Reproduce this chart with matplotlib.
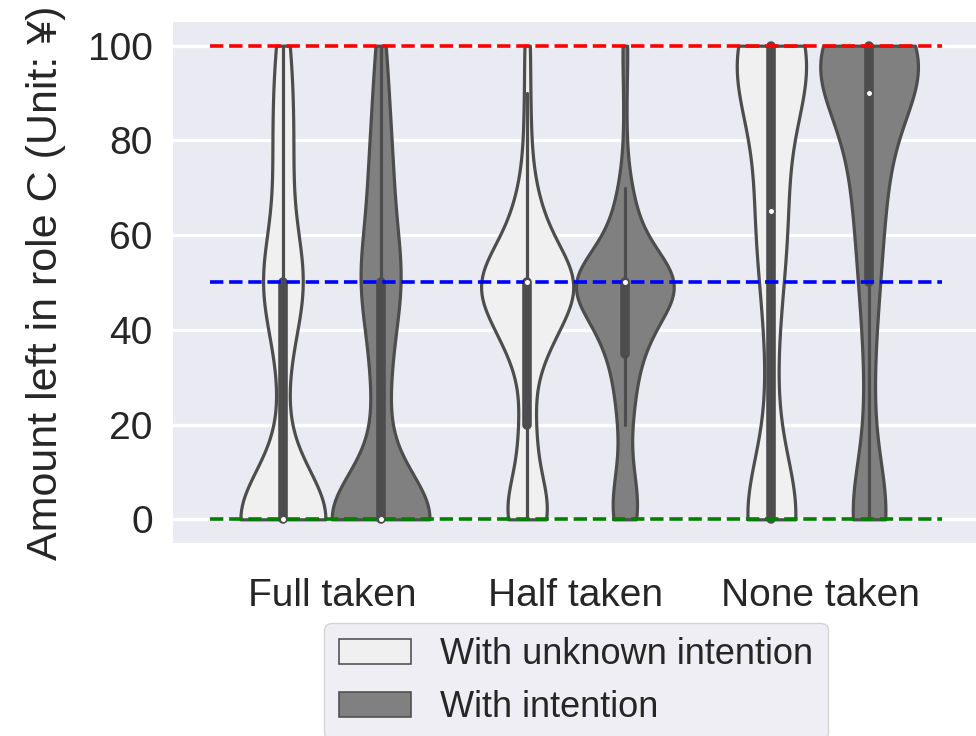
import numpy as np
import matplotlib
matplotlib.use("Agg")
import matplotlib.pyplot as plt
from matplotlib.patches import Patch

plt.rcParams["font.family"] = ["Liberation Sans", "DejaVu Sans"]

categories = ["Full taken", "Half taken", "None taken"]
hue_levels = ["With unknown intention", "With intention"]
hue_colors = ["#f0f0f0", "#808080"]

# amount left (¥) and how many answers gave it, per condition
amounts = [0, 5, 10, 15, 20, 25, 30, 35, 40, 45, 50,
           55, 60, 65, 70, 75, 80, 85, 90, 95, 100]

full_unknown = [64, 0, 1, 0, 1, 1, 2, 1, 3, 4, 18,
                4, 2, 2, 3, 3, 4, 3, 3, 2, 5]
full_intent = [73, 0, 1, 1, 2, 3, 4, 3, 4, 3, 16,
               3, 6, 3, 5, 4, 4, 2, 3, 2, 3]
half_unknown = [13, 5, 2, 1, 5, 0, 1, 5, 10, 7, 26,
                6, 6, 4, 2, 1, 1, 1, 1, 0, 2]
half_intent = [8, 3, 4, 0, 3, 3, 4, 5, 10, 11, 30,
               8, 6, 3, 3, 0, 1, 0, 1, 0, 2]
none_unknown = [26, 1, 1, 1, 1, 1, 1, 1, 1, 2, 3,
                2, 3, 7, 2, 2, 2, 4, 6, 7, 26]
none_intent = [20, 2, 2, 1, 1, 1, 2, 1, 2, 1, 6,
               2, 3, 5, 6, 5, 5, 5, 15, 14, 42]

groups = [[full_unknown, full_intent],
          [half_unknown, half_intent],
          [none_unknown, none_intent]]

BW = 0.3        # kde bandwidth factor
LW = 2.3        # violin line width
GRAY = "#4d4d4d"
HALF = 0.2      # max half width of a violin

fig = plt.figure(figsize=(9.76, 7.36), dpi=100)
ax = fig.add_axes([173 / 976, 193 / 736, 806 / 976, 521 / 736])
ax.set_facecolor("#EAEAF2")
for s in ax.spines.values():
    s.set_visible(False)
ax.yaxis.grid(True, color="white", linewidth=2.4, zorder=0)
ax.set_axisbelow(True)

for i, pair in enumerate(groups):
    datas = [np.repeat(amounts, c).astype(float) for c in pair]
    nmax = max(len(d) for d in datas)
    for j, data in enumerate(datas):
        center = i + (-0.2 if j == 0 else 0.2)
        support = np.linspace(data.min(), data.max(), 100)
        bw = BW * data.std(ddof=1)
        dens = np.exp(-0.5 * ((support[:, None] - data[None, :]) / bw) ** 2).sum(1)
        dens = dens / dens.max() * len(data) / nmax
        ax.fill_betweenx(support, center - dens * HALF, center + dens * HALF,
                         facecolor=hue_colors[j], edgecolor=GRAY, linewidth=LW)
        q25, q50, q75 = np.percentile(data, [25, 50, 75])
        lim = 1.5 * (q75 - q25)
        lo = data[data >= q25 - lim].min()
        hi = data[data <= q75 + lim].max()
        ax.plot([center, center], [lo, hi], color=GRAY, linewidth=LW,
                solid_capstyle="round")
        ax.plot([center, center], [q25, q75], color=GRAY, linewidth=LW * 3,
                solid_capstyle="round")
        ax.scatter(center, q50, s=(LW * 2) ** 2, color="white",
                   edgecolor=GRAY, linewidth=1, zorder=3)

ax.plot([-0.5, 2.5], [100, 100], color="red", linestyle="--", linewidth=2.6)
ax.plot([-0.5, 2.5], [50, 50], color="blue", linestyle="--", linewidth=2.6)
ax.plot([-0.5, 2.5], [0, 0], color="green", linestyle="--", linewidth=2.6)

ax.set_xlim(-0.65, 2.65)
ax.set_ylim(-5, 105)
ax.set_xticks(range(len(categories)))
ax.set_xticklabels(categories)
ax.set_yticks([0, 20, 40, 60, 80, 100])
ax.tick_params(axis="both", length=0, labelsize=28, labelcolor="#262626")
ax.tick_params(axis="x", pad=25)
ax.tick_params(axis="y", pad=14.5)
ax.set_ylabel("Amount left in role C (Unit: ¥)", fontsize=31, color="#262626",
              labelpad=16)

handles = [Patch(facecolor=c, edgecolor=GRAY, linewidth=LW / 2, label=l)
           for c, l in zip(hue_colors, hue_levels)]
leg = ax.legend(handles=handles, loc="upper center", bbox_to_anchor=(0.5, -0.153),
                borderaxespad=0, fontsize=26, frameon=True, fancybox=True,
                framealpha=0.8, facecolor="#EAEAF2", edgecolor="0.8")
for t in leg.get_texts():
    t.set_color("#262626")

fig.savefig("out.png", dpi=100)
